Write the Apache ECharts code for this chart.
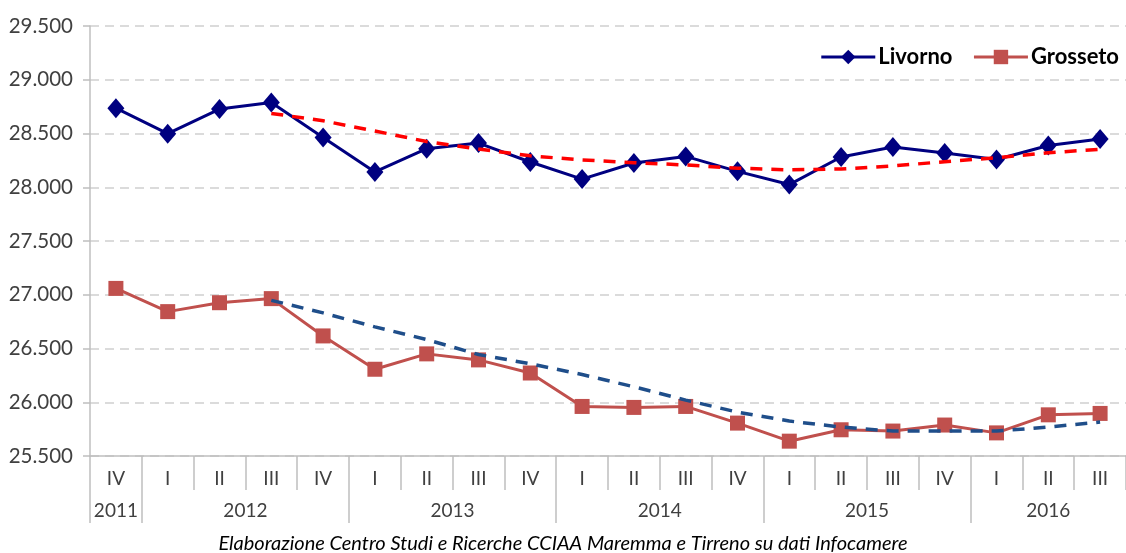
<!DOCTYPE html>
<html>
<head>
<meta charset="utf-8">
<title>Livorno - Grosseto</title>
<script src="https://cdn.jsdelivr.net/npm/echarts@6/dist/echarts.min.js"></script>
<style>
  html, body { margin: 0; padding: 0; background: #fff; }
  #chart { width: 1126px; height: 553px; }
</style>
</head>
<body>
<div id="chart"></div>
<script>
// quarters (first row of the x axis)
const quarters = ['IV', 'I', 'II', 'III', 'IV', 'I', 'II', 'III', 'IV', 'I', 'II', 'III', 'IV', 'I', 'II', 'III', 'IV', 'I', 'II', 'III']
// years (second row) and how many quarters each one spans
const yearLabels = ['2011', '2012', '2013', '2014', '2015', '2016']
const yearSpans = [1, 4, 4, 4, 4, 3]

const livorno = [28736, 28498, 28727, 28788, 28463, 28142, 28359, 28411, 28235, 28076,
  28226, 28287, 28148, 28025, 28281, 28374, 28319, 28258, 28389, 28449]
const grosseto = [27059, 26843, 26926, 26964, 26617, 26307, 26450, 26394, 26272, 25961,
  25952, 25961, 25806, 25638, 25744, 25732, 25788, 25715, 25883, 25896]

// dashed trend lines ('-' = not drawn)
const livornoTrend = ['-', '-', '-', 28687, 28618, 28523, 28425, 28355, 28292, 28254,
  28229, 28207, 28177, 28162, 28170, 28198, 28238, 28275, 28321, 28353]
const grossetoTrend = ['-', '-', '-', 26948, 26831, 26701, 26583, 26444, 26358, 26258,
  26144, 26020, 25908, 25825, 25769, 25732, 25732, 25732, 25769, 25816]

const yMin = 25500
const yMax = 29500
const yStep = 500

const fontFamily = 'Lato, "Open Sans", sans-serif'

// year label centres and separators on a 0..n scale
const yearCenters = []
const yearBounds = [0]
let pos = 0
yearSpans.forEach(function (span) {
  yearCenters.push(pos + span / 2)
  pos += span
  if (pos < quarters.length) yearBounds.push(pos)
})

const chart = echarts.init(document.getElementById('chart'))

chart.setOption({
  animation: false,
  textStyle: { fontFamily: fontFamily },
  title: {
    text: 'Elaborazione Centro Studi e Ricerche CCIAA Maremma e Tirreno su dati Infocamere',
    left: 'center',
    bottom: -6,
    textStyle: {
      fontFamily: fontFamily,
      fontSize: 20,
      fontStyle: 'italic',
      fontWeight: 'normal',
      color: '#000'
    }
  },
  legend: {
    data: ['Livorno', 'Grosseto'],
    right: 2,
    top: 41,
    itemWidth: 54,
    itemHeight: 18,
    itemGap: 20,
    lineStyle: { width: 3 },
    textStyle: {
      fontFamily: fontFamily,
      fontSize: 22,
      fontWeight: 'bold',
      color: '#000',
      padding: [0, 0, 0, -2]
    }
  },
  grid: {
    left: 90,
    right: -10,
    top: 26,
    bottom: 97
  },
  xAxis: [{
    type: 'category',
    data: quarters,
    boundaryGap: true,
    axisLine: { lineStyle: { color: '#bfbfbf', width: 1.5 } },
    axisTick: {
      show: true,
      interval: 0,
      length: 34,
      lineStyle: { color: '#bfbfbf', width: 1.5 }
    },
    axisLabel: {
      interval: 0,
      margin: 13,
      fontSize: 19,
      color: '#404040'
    }
  }, {
    type: 'value',
    min: 0,
    max: quarters.length,
    position: 'bottom',
    splitLine: { show: false },
    axisLine: { show: false },
    axisTick: {
      show: true,
      length: 67,
      customValues: yearBounds,
      lineStyle: { color: '#bfbfbf', width: 1.5 }
    },
    axisLabel: {
      customValues: yearCenters,
      margin: 45,
      fontSize: 19,
      color: '#404040',
      formatter: function (val) {
        const i = yearCenters.indexOf(val)
        return i >= 0 ? yearLabels[i] : ''
      }
    }
  }],
  yAxis: {
    type: 'value',
    min: yMin,
    max: yMax,
    interval: yStep,
    axisLine: { show: true, lineStyle: { color: '#bfbfbf', width: 1.5 } },
    axisTick: { show: true, length: 7, lineStyle: { color: '#bfbfbf', width: 1.5 } },
    axisLabel: {
      margin: 17,
      fontSize: 20.5,
      color: '#404040',
      formatter: function (v) {
        return (v / 1000).toFixed(3)
      }
    },
    splitLine: {
      lineStyle: { color: '#d0d0d0', width: 1.5, type: [9, 6] }
    }
  },
  series: [{
    name: 'Livorno',
    type: 'line',
    data: livorno,
    symbol: 'diamond',
    symbolSize: [17, 20],
    itemStyle: { color: '#000080' },
    lineStyle: { color: '#000080', width: 3 },
    z: 3
  }, {
    name: 'Grosseto',
    type: 'line',
    data: grosseto,
    symbol: 'rect',
    symbolSize: 15,
    itemStyle: { color: '#c0504d' },
    lineStyle: { color: '#c0504d', width: 3 },
    z: 3
  }, {
    name: 'Tendenza Livorno',
    type: 'line',
    data: livornoTrend,
    showSymbol: false,
    symbol: 'none',
    lineStyle: { color: '#ff0000', width: 3.5, type: [12, 9] },
    z: 4
  }, {
    name: 'Tendenza Grosseto',
    type: 'line',
    data: grossetoTrend,
    showSymbol: false,
    symbol: 'none',
    lineStyle: { color: '#1f4e8a', width: 3.5, type: [12, 9] },
    z: 4
  }]
})
</script>
</body>
</html>
